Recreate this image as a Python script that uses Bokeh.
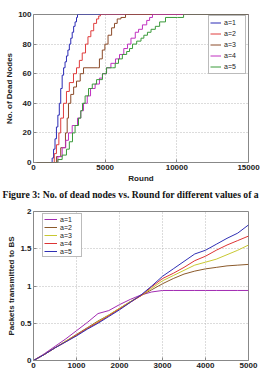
from bokeh.plotting import figure
from bokeh.layouts import column
from bokeh.models import Legend, LegendItem, Title, Label, FixedTicker
from bokeh.embed import file_html
from bokeh.resources import INLINE

# ---- Figure 3: dead nodes per round, one staircase per value of a ----
dead_labels = ["a=1", "a=2", "a=3", "a=4", "a=5"]
dead_colors = ["#2b2bb5", "#e03c3c", "#8b4a28", "#c030c0", "#3a9a3a"]

rounds_a1 = [0, 1200, 1300, 1400, 1500, 1600, 1700, 1800, 1900, 2000, 2100, 2200, 2300, 2400,
             2500, 2600, 2700, 2800, 2900, 3000, 3070, 15000]
dead_a1 = [0, 0, 3, 9, 16, 24, 32, 40, 50, 59, 64, 68, 72, 76, 80, 84, 88, 92, 95, 98, 100, 100]

rounds_a2 = [0, 1300, 1450, 1600, 1770, 1900, 2090, 2300, 2500, 2790, 3000, 3200, 3400, 3630,
             3800, 4000, 4200, 4400, 4550, 4670, 15000]
dead_a2 = [0, 0, 6, 12, 20, 30, 40, 48, 54, 60, 64, 69, 74, 80, 85, 89, 94, 97, 99, 100, 100]

rounds_a3 = [0, 1320, 1600, 1900, 2230, 2350, 2440, 2600, 2800, 3000, 3260, 3490, 4460, 4600,
             4800, 4980, 5200, 5450, 5650, 5840, 6100, 6420, 15000]
dead_a3 = [0, 0, 4, 10, 20, 30, 40, 46, 51, 55, 60, 64, 64, 70, 76, 80, 86, 91, 94, 97, 98, 100, 100]

rounds_a4 = [0, 1400, 1700, 2000, 2250, 2440, 2700, 3070, 3300, 3490, 3750, 3980, 4300, 4600,
             4810, 5100, 5400, 5720, 6000, 6300, 6560, 6800, 7100, 7330, 7600, 7900, 8100, 8300, 15000]
dead_a4 = [0, 0, 4, 10, 15, 20, 25, 30, 35, 40, 45, 50, 53, 57, 60, 64, 67, 70, 73, 77, 80, 84,
           88, 90, 93, 96, 98, 100, 100]

rounds_a5 = [0, 1400, 1700, 2000, 2300, 2500, 2720, 2900, 3140, 3300, 3420, 3600, 3840, 4100,
             4400, 4810, 5090, 5510, 5700, 5930, 6200, 6500, 6700, 6910, 7200, 7500, 7700, 7950,
             8200, 8500, 8800, 9210, 10050, 10470, 15000]
dead_a5 = [0, 0, 2, 5, 9, 14, 20, 25, 30, 35, 40, 45, 50, 53, 56, 60, 64, 64, 67, 70, 73, 75,
           77, 80, 82, 84, 86, 88, 90, 92, 95, 98, 98, 100, 100]

dead_x_ticks = [0, 5000, 10000, 15000]
dead_y_ticks = [0, 20, 40, 60, 80, 100]

# ---- Packets transmitted to BS (x 10^5) per round ----
pkt_labels = ["a=1", "a=2", "a=3", "a=4", "a=5"]
pkt_colors = ["#a22cb2", "#8b5a2b", "#c8c832", "#dd3434", "#2f2fb4"]
pkt_rounds = [0, 250, 500, 750, 1000, 1250, 1500, 1750, 2000, 2250, 2500, 2750, 3000, 3250,
              3500, 3750, 4000, 4250, 4500, 4750, 5000]
pkt_a1 = [0, 0.09, 0.19, 0.29, 0.40, 0.51, 0.63, 0.67, 0.75, 0.82, 0.88, 0.92, 0.94, 0.94,
          0.94, 0.94, 0.94, 0.94, 0.94, 0.94, 0.94]
pkt_a2 = [0, 0.08, 0.17, 0.26, 0.35, 0.44, 0.53, 0.61, 0.70, 0.79, 0.87, 0.95, 1.03, 1.10,
          1.16, 1.20, 1.23, 1.25, 1.27, 1.28, 1.29]
pkt_a3 = [0, 0.08, 0.17, 0.26, 0.34, 0.43, 0.52, 0.61, 0.70, 0.79, 0.87, 0.97, 1.07, 1.14,
          1.21, 1.28, 1.32, 1.36, 1.42, 1.48, 1.55]
pkt_a4 = [0, 0.08, 0.17, 0.25, 0.34, 0.43, 0.51, 0.60, 0.69, 0.78, 0.87, 0.99, 1.10, 1.17,
          1.25, 1.34, 1.40, 1.48, 1.55, 1.61, 1.67]
pkt_a5 = [0, 0.08, 0.17, 0.25, 0.33, 0.42, 0.50, 0.59, 0.68, 0.78, 0.88, 1.00, 1.13, 1.23,
          1.33, 1.43, 1.48, 1.56, 1.64, 1.71, 1.82]

pkt_x_ticks = [0, 1000, 2000, 3000, 4000, 5000]
pkt_y_ticks = [0, 0.5, 1, 1.5, 2]

caption = "Figure 3: No. of dead nodes vs. Round for different values of a"

FONT = "Liberation Sans"


def style_axes(p, xticks, yticks):
    p.outline_line_color = "#888888"
    p.outline_line_width = 1
    p.background_fill_color = "white"
    p.border_fill_color = "white"
    p.xaxis.ticker = FixedTicker(ticks=xticks)
    p.yaxis.ticker = FixedTicker(ticks=yticks)
    for ax in (p.xaxis, p.yaxis):
        ax.axis_line_color = None
        ax.major_tick_in = 3
        ax.major_tick_out = 0
        ax.major_tick_line_color = "#888888"
        ax.minor_tick_line_color = None
        ax.major_label_text_font = FONT
        ax.major_label_text_font_style = "bold"
        ax.major_label_text_font_size = "8px"
        ax.major_label_text_color = "#222222"
        ax.major_label_standoff = 2
        ax.axis_label_text_font = FONT
        ax.axis_label_text_font_style = "bold"
        ax.axis_label_text_font_size = "8px"
        ax.axis_label_text_color = "#222222"
        ax.axis_label_standoff = 1
    for g in (p.xgrid, p.ygrid):
        g.grid_line_color = "#b8b8b8"
        g.grid_line_dash = "1 2"
        g.grid_line_width = 1


def make_legend(items, loc, row_h, glyph_w):
    return Legend(items=items, location=loc, padding=1, spacing=0,
                  label_height=row_h, glyph_height=row_h, glyph_width=glyph_w, label_standoff=3,
                  label_text_font=FONT, label_text_font_size="7px", label_text_color="#222222",
                  border_line_color="#777777", background_fill_alpha=1)


# Top chart: dead nodes
p1 = figure(width=262, height=200, output_backend="svg", toolbar_location=None,
            x_range=(0, 15000), y_range=(0, 100),
            min_border_left=33, min_border_right=14, min_border_top=14, min_border_bottom=0)
style_axes(p1, dead_x_ticks, dead_y_ticks)
p1.xaxis.axis_label = "Round"
p1.yaxis.axis_label = "No. of Dead Nodes"

dead_series = [(rounds_a1, dead_a1), (rounds_a2, dead_a2), (rounds_a3, dead_a3),
               (rounds_a4, dead_a4), (rounds_a5, dead_a5)]
items1 = []
for (xs, ys), lab, col in zip(dead_series, dead_labels, dead_colors):
    r = p1.step(xs, ys, mode="after", line_color=col, line_width=1)
    items1.append(LegendItem(label=lab, renderers=[r]))
p1.add_layout(make_legend(items1, (175, 88), 11, 11))

p1.add_layout(Title(text=caption, align="left", offset=-31, text_font="Liberation Serif",
                    text_font_style="bold", text_font_size="9.7px", text_color="#111111",
                    standoff=2), "below")

# Bottom chart: packets transmitted to the base station
p2 = figure(width=262, height=175, output_backend="svg", toolbar_location=None,
            x_range=(0, 5000), y_range=(0, 2),
            min_border_left=32, min_border_right=14, min_border_top=11, min_border_bottom=15)
style_axes(p2, pkt_x_ticks, pkt_y_ticks)
p2.yaxis.axis_label = "Packets transmitted to BS"

pkt_series = [pkt_a1, pkt_a2, pkt_a3, pkt_a4, pkt_a5]
items2 = []
for ys, lab, col in zip(pkt_series, pkt_labels, pkt_colors):
    r = p2.line(pkt_rounds, ys, line_color=col, line_width=1)
    items2.append(LegendItem(label=lab, renderers=[r]))
p2.add_layout(make_legend(items2, (9, 103), 8, 13))

# axis multiplier and x-axis title drawn in the margins
p2.add_layout(Label(x=0, y=2, x_offset=1, y_offset=1, text="x 10", text_font=FONT,
                    text_font_size="7px", text_color="#222222", text_baseline="bottom"))
p2.add_layout(Label(x=0, y=2, x_offset=15, y_offset=5, text="5", text_font=FONT,
                    text_font_size="5px", text_color="#222222", text_baseline="bottom"))
p2.add_layout(Label(x=2500, y=0, y_offset=-6, text="Round", text_font=FONT,
                    text_font_style="bold", text_font_size="8px", text_color="#222222",
                    text_align="center", text_baseline="top"))

layout = column(p1, p2, spacing=0)
open("out.html", "w").write(file_html(layout, INLINE))
